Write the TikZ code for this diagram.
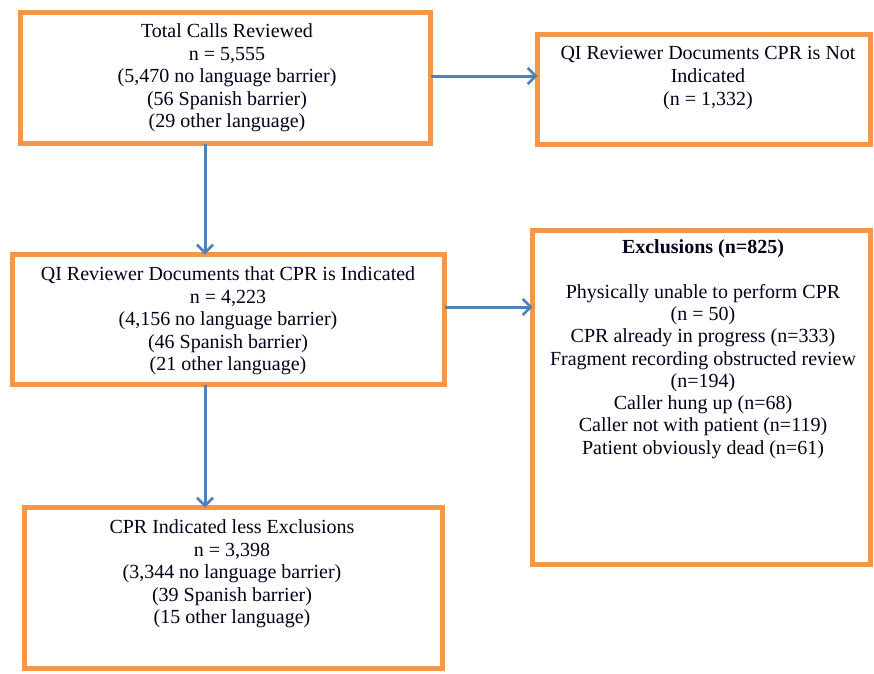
\documentclass[tikz,border=0pt]{standalone}
\usepackage{fontspec}
\setmainfont{Liberation Serif}
\usetikzlibrary{arrows.meta}
\definecolor{boxorange}{HTML}{F79646}
\definecolor{arrowblue}{HTML}{4F81BD}
\begin{document}
\begin{tikzpicture}[x=1pt,y=-1pt,
  flowbox/.style={draw=boxorange,line width=5pt,rectangle,inner sep=0pt,outer sep=0pt},
  boxtext/.style={anchor=north,align=center,inner sep=0pt,text=black!90!blue,
    font=\fontsize{20}{22.6}\selectfont},
  flowarrow/.style={draw=arrowblue,line width=3pt,
    -{Straight Barb[length=8pt,width=16pt,line width=2.6pt]}}]
\useasboundingbox (0,0) rectangle (874,673);
% boxes
\node[flowbox,minimum width=410pt,minimum height=131pt] (box1) at (225.5,78) {};
\node[flowbox,minimum width=333pt,minimum height=110pt] (box2) at (704,89.5) {};
\node[flowbox,minimum width=432pt,minimum height=130pt] (box3) at (228.5,319.5) {};
\node[flowbox,minimum width=338pt,minimum height=334pt] (excl) at (701.5,397.5) {};
\node[flowbox,minimum width=418pt,minimum height=161pt] (box5) at (233.5,588) {};
% texts
\node[boxtext] (t1) at (227,23.5) {Total Calls Reviewed\\ n = 5,555\\ (5,470 no language barrier)\\ (56 Spanish barrier)\\ (29 other language)};
\node[boxtext] (t2) at (708,46.5) {QI Reviewer Documents CPR is Not\\ Indicated\\ (n = 1,332)};
\node[boxtext] (t3) at (228,266.5) {QI Reviewer Documents that CPR is Indicated\\ n = 4,223\\ (4,156 no language barrier)\\ (46 Spanish barrier)\\ (21 other language)};
\node[boxtext,font=\fontsize{20}{22.3}\selectfont] (tx) at (703,239.5) {\textbf{Exclusions (n=825)}\\[22.3pt] Physically unable to perform CPR\\ (n = 50)\\ CPR already in progress (n=333)\\ Fragment recording obstructed review\\ (n=194)\\ Caller hung up (n=68)\\ Caller not with patient (n=119)\\ Patient obviously dead (n=61)};
\node[boxtext] (t5) at (232,519.5) {CPR Indicated less Exclusions\\ n = 3,398\\ (3,344 no language barrier)\\ (39 Spanish barrier)\\ (15 other language)};
% connectors
\draw[flowarrow] ([yshift=2pt]box1.east) -- ([yshift=2pt]box1.east -| box2.west);
\draw[flowarrow] ([xshift=-20.5pt]box1.south) -- ([xshift=-20.5pt]box1.south |- box3.north);
\draw[flowarrow] ([yshift=12.5pt]box3.east) -- ([yshift=12.5pt]box3.east -| excl.west);
\draw[flowarrow] ([xshift=-23.5pt]box3.south) -- ([xshift=-23.5pt]box3.south |- box5.north);
\end{tikzpicture}
\end{document}
